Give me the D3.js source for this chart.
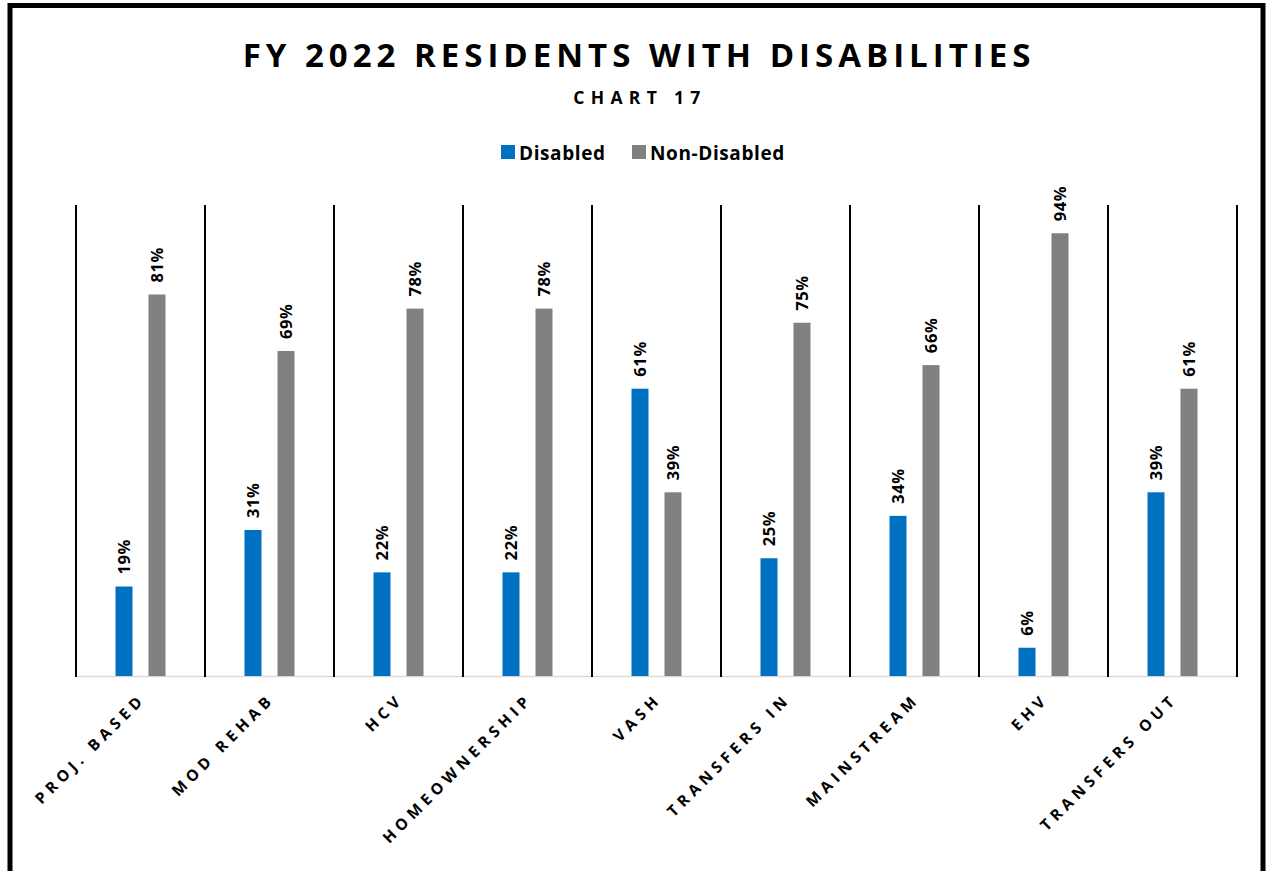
<!DOCTYPE html>
<html>
<head>
<meta charset="utf-8">
<script src="https://cdn.jsdelivr.net/npm/d3@7/dist/d3.min.js"></script>
<style>
  html, body { margin: 0; padding: 0; background: #fff; }
  svg { display: block; font-family: "Open Sans", "Noto Sans", sans-serif; }
</style>
</head>
<body>
<svg id="chart" width="1267" height="871"></svg>
<script>
// Program categories and the share of residents in each group (%)
const categories = ["PROJ. BASED", "MOD REHAB", "HCV", "HOMEOWNERSHIP", "VASH",
                    "TRANSFERS IN", "MAINSTREAM", "EHV", "TRANSFERS OUT"];
const disabled    = [19, 31, 22, 22, 61, 25, 34, 6, 39];
const nonDisabled = [81, 69, 78, 78, 39, 75, 66, 94, 61];
const seriesNames = ["Disabled", "Non-Disabled"];
const seriesColors = ["#0070C0", "#808080"];

const svg = d3.select("#chart");

// Outer frame (open at the bottom edge)
svg.append("rect").attr("x", 10).attr("y", 5.5).attr("width", 1253).attr("height", 900)
  .attr("fill", "none").attr("stroke", "#000").attr("stroke-width", 5);

// Titles
svg.append("text").attr("x", 639).attr("y", 67).attr("text-anchor", "middle")
  .attr("font-size", 33).attr("font-weight", 700).attr("letter-spacing", 5)
  .attr("fill", "#000").text("FY 2022 RESIDENTS WITH DISABILITIES");
svg.append("text").attr("x", 640).attr("y", 104).attr("text-anchor", "middle")
  .attr("font-size", 17.5).attr("font-weight", 700).attr("letter-spacing", 6.3)
  .attr("fill", "#000").text("CHART 17");

// Legend
const legend = svg.append("g").attr("transform", "translate(501,145)");
const legendX = [0, 131];
seriesNames.forEach((name, i) => {
  const g = legend.append("g").attr("transform", `translate(${legendX[i]},0)`);
  g.append("rect").attr("width", 14).attr("height", 14).attr("y", 0).attr("fill", seriesColors[i]);
  g.append("text").attr("x", 18).attr("y", 14.5).attr("font-size", 19)
    .attr("font-weight", 700).attr("letter-spacing", 0.6).attr("fill", "#000").text(name);
});

// Scales
const plotLeft = 76, plotRight = 1237, plotTop = 205, plotBottom = 676;
const x = d3.scaleBand().domain(categories).range([plotLeft, plotRight]).padding(0);
const y = d3.scaleLinear().domain([0, 100]).range([plotBottom, plotTop]);
const inner = d3.scaleBand().domain(seriesNames).range([-25, 25]).paddingInner(16 / 33).paddingOuter(0);

// Baseline
svg.append("line").attr("x1", plotLeft).attr("x2", plotRight)
  .attr("y1", plotBottom + 0.5).attr("y2", plotBottom + 0.5)
  .attr("stroke", "#d9d9d9").attr("stroke-width", 1.5);

// Category separators
const bounds = categories.map(c => x(c)).concat([x(categories[categories.length - 1]) + x.bandwidth()]);
svg.append("g").selectAll("line").data(bounds).join("line")
  .attr("x1", d => Math.round(d)).attr("x2", d => Math.round(d))
  .attr("y1", plotTop).attr("y2", plotBottom + 1)
  .attr("stroke", "#000").attr("stroke-width", 2);

// Bars and value labels
const rows = categories.map((c, i) => ({ c, vals: [disabled[i], nonDisabled[i]] }));
const groups = svg.append("g").selectAll("g").data(rows).join("g")
  .attr("transform", d => `translate(${x(d.c) + x.bandwidth() / 2},0)`);

groups.selectAll("rect").data(d => d.vals.map((v, i) => ({ v, s: seriesNames[i], i }))).join("rect")
  .attr("x", d => inner(d.s)).attr("width", inner.bandwidth())
  .attr("y", d => y(d.v)).attr("height", d => y(0) - y(d.v))
  .attr("fill", d => seriesColors[d.i]);

groups.selectAll("text.val").data(d => d.vals.map((v, i) => ({ v, s: seriesNames[i] }))).join("text")
  .attr("class", "val")
  .attr("transform", d => `translate(${inner(d.s) + inner.bandwidth() / 2 + 6},${y(d.v) - 12}) rotate(-90)`)
  .attr("font-size", 16.5).attr("font-weight", 700).attr("letter-spacing", 0.6).attr("fill", "#000")
  .text(d => d.v + "%");

// Category axis labels, rotated
const xAxis = svg.append("g").attr("transform", `translate(0,${plotBottom})`)
  .call(d3.axisBottom(x).tickSize(0).tickPadding(0));
xAxis.select(".domain").remove();
xAxis.selectAll("text")
  .attr("font-family", "\"Open Sans\", sans-serif")
  .attr("font-size", 15.5).attr("font-weight", 700).attr("fill", "#000")
  .attr("letter-spacing", 4.8)
  .attr("text-anchor", "end").attr("dy", null).attr("y", 0)
  .attr("transform", "translate(6,24) rotate(-45)");
</script>
</body>
</html>
